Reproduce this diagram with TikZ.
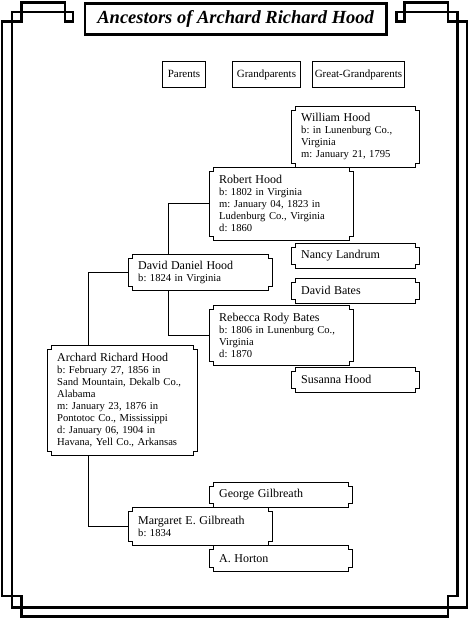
\documentclass[tikz,border=0pt]{standalone}
\usepackage{fontspec}
\setmainfont{Liberation Serif}
\usetikzlibrary{calc}
\frenchspacing
\tikzset{
 frameline/.style={line width=2.8pt, line join=miter},
 titlebox/.style={draw, line width=2.8pt, anchor=north west, inner sep=0pt, font=\fontsize{18.5}{20}\selectfont\bfseries\itshape},
 pbox/.style={anchor=north west, inner xsep=10pt, inner ysep=2pt, align=left, font=\frenchspacing\fontsize{10.6}{12}\selectfont},
 hbox/.style={anchor=north west, draw, line width=0.9pt, inner sep=0pt, font=\fontsize{11}{12}\selectfont},
 boxline/.style={line width=0.9pt, line join=miter},
 conn/.style={line width=0.9pt},
}
\newcommand{\nm}[1]{{\fontsize{12}{12}\selectfont #1}}
\begin{document}
\begin{tikzpicture}[x=1pt,y=-1pt]
\useasboundingbox (0,0) rectangle (468,618);
% decorative frame
\draw[frameline] (21.5,616.5) -- (21.5,596) -- (2,596) -- (2,21.5) -- (21.5,21.5) -- (21.5,2.5) -- (65,2.5) -- (65,21.5) -- (73,21.5) -- (73,12) -- (12,12) -- (12,607.5) -- (467.5,607.5) -- (467.5,21.5) -- (448,21.5) -- (448,2.5) -- (404.5,2.5) -- (404.5,21.5) -- (396.5,21.5) -- (396.5,12) -- (457.5,12) -- (457.5,596) -- (448,596) -- (448,616.5) -- cycle;
% title
\node[titlebox, minimum width=301.5pt, minimum height=31pt] (title) at (83.5,2.5) {Ancestors of Archard Richard Hood};
% headers
\node[hbox, minimum width=43pt, minimum height=25pt] (hpar) at (162,61.5) {Parents};
\node[hbox, minimum width=68pt, minimum height=25pt] (hgrand) at (232,61.5) {Grandparents};
\node[hbox, minimum width=92pt, minimum height=25pt] (hgreat) at (312,61.5) {Great-Grandparents};
% persons
\node[pbox, text width=108pt, minimum height=61pt] (will) at (291,106) {\nm{William Hood}\\ b: in Lunenburg Co.,\\ Virginia\\ m: January 21, 1795};
\node[pbox, text width=124pt, minimum height=73pt] (rob) at (209,167) {\nm{Robert Hood}\\ b: 1802 in Virginia\\ m: January 04, 1823 in\\ Ludenburg Co., Virginia\\ d: 1860};
\node[pbox, text width=108pt, minimum height=25pt] (nancy) at (291,243) {\nm{Nancy Landrum}};
\node[pbox, text width=124pt, minimum height=36pt] (dd) at (128,254) {\nm{David Daniel Hood}\\ b: 1824 in Virginia};
\node[pbox, text width=108pt, minimum height=25pt] (dbates) at (291,278) {\nm{David Bates}};
\node[pbox, text width=124pt, minimum height=60pt] (reb) at (209,305) {\nm{Rebecca Rody Bates}\\ b: 1806 in Lunenburg Co.,\\ Virginia\\ d: 1870};
\node[pbox, text width=108pt, minimum height=25pt] (sus) at (291,367) {\nm{Susanna Hood}};
\node[pbox, text width=130pt, minimum height=110pt] (arch) at (47,345) {\nm{Archard Richard Hood}\\ b: February 27, 1856 in\\ Sand Mountain, Dekalb Co.,\\ Alabama\\ m: January 23, 1876 in\\ Pontotoc Co., Mississippi\\ d: January 06, 1904 in\\ Havana, Yell Co., Arkansas};
\node[pbox, text width=123pt, minimum height=25pt] (george) at (209,482) {\nm{George Gilbreath}};
\node[pbox, text width=124pt, minimum height=38pt] (marg) at (128,507) {\nm{Margaret E. Gilbreath}\\ b: 1834};
\node[pbox, text width=123pt, minimum height=26pt] (horton) at (209,545) {\nm{A. Horton}};
% notched outlines
\foreach \n in {will,rob,nancy,dd,dbates,reb,sus,arch,george,marg,horton}{
  \draw[boxline] ($(\n.north west)+(4,0)$) -- ($(\n.north east)+(-4,0)$) -- ++(0,4) -- ++(4,0)
    -- ($(\n.south east)+(0,-4)$) -- ++(-4,0) -- ++(0,4) -- ($(\n.south west)+(4,0)$)
    -- ++(0,-4) -- ++(-4,0) -- ($(\n.north west)+(0,4)$) -- ++(4,0) -- cycle;
}
% connectors
\draw[conn] (rob.west) -| ($(dd.north west)+(40,0)$);
\draw[conn] (reb.west) -| ($(dd.south west)+(40,0)$);
\draw[conn] (dd.west) -| ($(arch.north west)+(41,0)$);
\draw[conn] (marg.west) -| ($(arch.south west)+(41,0)$);
\end{tikzpicture}
\end{document}
